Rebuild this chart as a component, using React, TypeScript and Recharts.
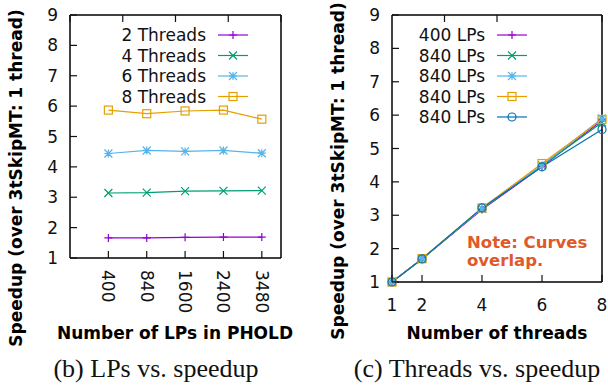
// PHOLD speedup figure: (b) LPs vs. speedup, (c) threads vs. speedup
import { LineChart, Line, XAxis, YAxis, Legend } from 'recharts';

const lpLabels = ['400', '840', '1600', '2400', '3480'];
const lpIndex = [0, 1, 2, 3, 4];
const speedup2Threads = [1.66, 1.66, 1.68, 1.69, 1.69];
const speedup4Threads = [3.14, 3.15, 3.2, 3.21, 3.22];
const speedup6Threads = [4.44, 4.54, 4.51, 4.54, 4.45];
const speedup8Threads = [5.87, 5.75, 5.84, 5.87, 5.57];

const threadCounts = [1, 2, 4, 6, 8];
const speedup400Lps = [1, 1.69, 3.17, 4.46, 5.84];
const speedup840LpsA = [1, 1.69, 3.19, 4.49, 5.78];
const speedup840LpsB = [1, 1.7, 3.2, 4.5, 5.9];
const speedup840LpsC = [1, 1.7, 3.22, 4.55, 5.87];
const speedup840LpsD = [1, 1.69, 3.22, 4.45, 5.57];

const speedupTicks = [1, 2, 3, 4, 5, 6, 7, 8, 9];
const threadTicks = [1, 2, 4, 6, 8];

const FONT = '"DejaVu Sans", sans-serif';
const INK = '#111';

type Shape = 'plus' | 'cross' | 'star' | 'square' | 'circle';
interface SeriesDef { key: string; name: string; color: string; shape: Shape }

const lpSeries: SeriesDef[] = [
  { key: 't2', name: '2 Threads', color: '#9400d3', shape: 'plus' },
  { key: 't4', name: '4 Threads', color: '#009e73', shape: 'cross' },
  { key: 't6', name: '6 Threads', color: '#56b4e9', shape: 'star' },
  { key: 't8', name: '8 Threads', color: '#e69f00', shape: 'square' },
];

const threadSeries: SeriesDef[] = [
  { key: 'a', name: '400 LPs', color: '#9400d3', shape: 'plus' },
  { key: 'b', name: '840 LPs', color: '#009e73', shape: 'cross' },
  { key: 'c', name: '840 LPs', color: '#56b4e9', shape: 'star' },
  { key: 'd', name: '840 LPs', color: '#e69f00', shape: 'square' },
  { key: 'e', name: '840 LPs', color: '#0072b2', shape: 'circle' },
];

const lpData = lpIndex.map((idx, i) => ({
  idx,
  t2: speedup2Threads[i],
  t4: speedup4Threads[i],
  t6: speedup6Threads[i],
  t8: speedup8Threads[i],
}));

const threadData = threadCounts.map((threads, i) => ({
  threads,
  a: speedup400Lps[i],
  b: speedup840LpsA[i],
  c: speedup840LpsB[i],
  d: speedup840LpsC[i],
  e: speedup840LpsD[i],
}));

function Marker({ cx, cy, shape, color }: { cx: number; cy: number; shape: Shape; color: string }) {
  if (cx == null || cy == null) return null;
  const s = 4;
  const plus = `M${cx - s},${cy}H${cx + s}M${cx},${cy - s}V${cy + s}`;
  const cross = `M${cx - s},${cy - s}L${cx + s},${cy + s}M${cx - s},${cy + s}L${cx + s},${cy - s}`;
  if (shape === 'plus') return <path d={plus} stroke={color} strokeWidth={1.2} fill="none" />;
  if (shape === 'cross') return <path d={cross} stroke={color} strokeWidth={1.2} fill="none" />;
  if (shape === 'star') return <path d={plus + cross} stroke={color} strokeWidth={1.2} fill="none" />;
  if (shape === 'square')
    return <rect x={cx - s} y={cy - s} width={2 * s} height={2 * s} stroke={color} strokeWidth={1.2} fill="none" />;
  return <circle cx={cx} cy={cy} r={s} stroke={color} strokeWidth={1.2} fill="none" />;
}

function SeriesKey({ payload, series, textEnd, top }: any) {
  const rows = payload || [];
  return (
    <svg width={textEnd + 60} height={top + rows.length * 21} style={{ overflow: 'visible' }}>
      {rows.map((entry: any, i: number) => {
        const def = series.find((s: SeriesDef) => s.key === entry.dataKey) || series[i];
        const y = top + i * 20.5;
        return (
          <g key={def.key}>
            <text x={textEnd} y={y} dy="0.36em" textAnchor="end" fontFamily={FONT} fontSize={17} fill={INK}>
              {def.name}
            </text>
            <line x1={textEnd + 12} x2={textEnd + 42} y1={y} y2={y} stroke={def.color} strokeWidth={1.2} />
            <Marker cx={textEnd + 27} cy={y} shape={def.shape} color={def.color} />
          </g>
        );
      })}
    </svg>
  );
}

const LeftTick = ({ x, y, payload }: any) => (
  <g>
    <line x1={x} x2={x + 7} y1={y} y2={y} stroke={INK} strokeWidth={1.2} />
    <text x={x - 12} y={y} dy="0.36em" textAnchor="end" fontFamily={FONT} fontSize={17} fill={INK}>
      {payload.value}
    </text>
  </g>
);
const RightTick = ({ x, y }: any) => <line x1={x} x2={x - 7} y1={y} y2={y} stroke={INK} strokeWidth={1.2} />;
const TopTick = ({ x, y }: any) => <line x1={x} x2={x} y1={y} y2={y + 7} stroke={INK} strokeWidth={1.2} />;

const LpBottomTick = ({ x, y, payload }: any) => (
  <g>
    <line x1={x} x2={x} y1={y} y2={y - 7} stroke={INK} strokeWidth={1.2} />
    <text
      transform={`translate(${x},${y + 12}) rotate(90)`}
      dy="0.36em"
      textAnchor="start"
      fontFamily={FONT}
      fontSize={17}
      fill={INK}
    >
      {lpLabels[payload.value]}
    </text>
  </g>
);

const ThreadBottomTick = ({ x, y, payload }: any) => (
  <g>
    <line x1={x} x2={x} y1={y} y2={y - 7} stroke={INK} strokeWidth={1.2} />
    <text x={x} y={y + 29} textAnchor="middle" fontFamily={FONT} fontSize={17} fill={INK}>
      {payload.value}
    </text>
  </g>
);

const axisLine = { stroke: '#000', strokeWidth: 1.5 };

function renderLines(series: SeriesDef[]) {
  return series.map((s) => (
    <Line
      key={s.key}
      dataKey={s.key}
      name={s.name}
      stroke={s.color}
      strokeWidth={1.2}
      isAnimationActive={false}
      dot={(p: any) => <Marker key={`${s.key}-${p.index}`} cx={p.cx} cy={p.cy} shape={s.shape} color={s.color} />}
    />
  ));
}

function LpChart() {
  return (
    <LineChart width={300} height={387} data={lpData} margin={{ top: 10, right: 9, left: 30, bottom: 99 }}>
      <XAxis dataKey="idx" type="number" domain={[-1, 4.5]} ticks={lpIndex} interval={0}
        height={30} tickSize={0} tickMargin={0} tickLine={false} axisLine={axisLine} tick={LpBottomTick} />
      <XAxis xAxisId="top" orientation="top" type="number" domain={[-1, 4.5]} ticks={lpIndex} interval={0}
        height={5} tickSize={0} tickMargin={0} tickLine={false} axisLine={axisLine} tick={TopTick} />
      <YAxis type="number" domain={[1, 9]} ticks={speedupTicks} interval={0}
        width={40} tickSize={0} tickMargin={0} tickLine={false} axisLine={axisLine} tick={LeftTick} />
      <YAxis yAxisId="right" orientation="right" type="number" domain={[1, 9]} ticks={speedupTicks} interval={0}
        width={10} tickSize={0} tickMargin={0} tickLine={false} axisLine={axisLine} tick={RightTick} />
      <Legend layout="vertical" align="center" verticalAlign="middle"
        wrapperStyle={{ left: 0, top: 0, width: 300, height: 120 }}
        content={(p: any) => <SeriesKey payload={p.payload} series={lpSeries} textEnd={206} top={35} />} />
      {renderLines(lpSeries)}
    </LineChart>
  );
}

function ThreadChart() {
  return (
    <LineChart width={308} height={387} data={threadData} margin={{ top: 10, right: 2, left: 52, bottom: 75 }}>
      <XAxis dataKey="threads" type="number" domain={[1, 8]} ticks={threadTicks} interval={0}
        height={30} tickSize={0} tickMargin={0} tickLine={false} axisLine={axisLine} tick={ThreadBottomTick} />
      <XAxis xAxisId="top" orientation="top" type="number" domain={[1, 8]} ticks={threadTicks} interval={0}
        height={5} tickSize={0} tickMargin={0} tickLine={false} axisLine={axisLine} tick={TopTick} />
      <YAxis type="number" domain={[1, 9]} ticks={speedupTicks} interval={0}
        width={40} tickSize={0} tickMargin={0} tickLine={false} axisLine={axisLine} tick={LeftTick} />
      <YAxis yAxisId="right" orientation="right" type="number" domain={[1, 9]} ticks={speedupTicks} interval={0}
        width={4} tickSize={0} tickMargin={0} tickLine={false} axisLine={axisLine} tick={RightTick} />
      <Legend layout="vertical" align="center" verticalAlign="middle"
        wrapperStyle={{ left: 0, top: 0, width: 308, height: 140 }}
        content={(p: any) => <SeriesKey payload={p.payload} series={threadSeries} textEnd={185} top={35} />} />
      {renderLines(threadSeries)}
    </LineChart>
  );
}

export default function App() {
  const bold = { fontFamily: FONT, fontSize: 17, fontWeight: 700, fill: '#000' } as const;
  const serif = { fontFamily: '"Liberation Serif", "Times New Roman", serif', fontSize: 26, fill: '#111' } as const;
  return (
    <div style={{ position: 'absolute', left: 0, top: 0, width: 608, height: 387, background: '#fff', overflow: 'hidden' }}>
      <div style={{ position: 'absolute', left: 0, top: 0 }}>
        <LpChart />
      </div>
      <div style={{ position: 'absolute', left: 300, top: 0 }}>
        <ThreadChart />
      </div>
      <svg width={608} height={387} style={{ position: 'absolute', left: 0, top: 0, pointerEvents: 'none' }}>
        <text transform="translate(16,178) rotate(-90)" dy="0.36em" textAnchor="middle" {...bold}>
          Speedup (over 3tSkipMT: 1 thread)
        </text>
        <text transform="translate(338,171) rotate(-90)" dy="0.36em" textAnchor="middle" {...bold}>
          Speedup (over 3tSkipMT: 1 thread)
        </text>
        <text x={175} y={339} textAnchor="middle" {...bold}>Number of LPs in PHOLD</text>
        <text x={497} y={339} textAnchor="middle" {...bold}>Number of threads</text>
        <text x={467} y={248} fontFamily={FONT} fontSize={16.5} fontWeight={700} fill="#e0592a">Note: Curves</text>
        <text x={467} y={266} fontFamily={FONT} fontSize={16.5} fontWeight={700} fill="#e0592a">overlap.</text>
        <text x={156} y={377} textAnchor="middle" {...serif}>(b) LPs vs. speedup</text>
        <text x={477} y={377} textAnchor="middle" {...serif}>(c) Threads vs. speedup</text>
      </svg>
    </div>
  );
}
